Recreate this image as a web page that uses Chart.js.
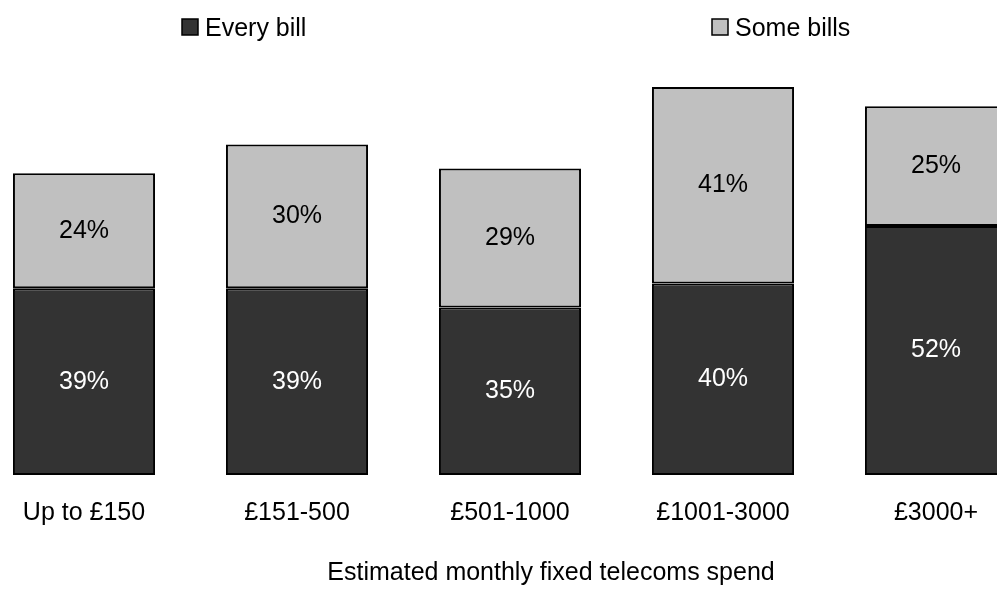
<!DOCTYPE html>
<html>
<head>
<meta charset="utf-8">
<script src="https://cdn.jsdelivr.net/npm/chart.js@4.4.1/dist/chart.umd.min.js"></script>
<style>
  html, body { margin: 0; padding: 0; background: #fff; overflow: hidden; }
  #wrap { position: relative; width: 997px; height: 594px; overflow: hidden; }
  #spendChart { position: absolute; left: -30px; top: 0; }
</style>
</head>
<body>
<div id="wrap">
  <canvas id="spendChart" width="1120" height="594"></canvas>
</div>
<script>
const categories = ['Up to £150', '£151-500', '£501-1000', '£1001-3000', '£3000+'];
const everyBill = [39, 39, 35, 40, 52];
const someBills = [24, 30, 29, 41, 25];
const seriesNames = ['Every bill', 'Some bills'];
const axisTitle = 'Estimated monthly fixed telecoms spend';

const FONT = '"Liberation Sans", Arial, sans-serif';

// value labels in the middle of each stacked segment
const segmentLabels = {
  id: 'segmentLabels',
  afterDatasetsDraw(chart) {
    const ctx = chart.ctx;
    ctx.save();
    ctx.font = '25px ' + FONT;
    ctx.textAlign = 'center';
    ctx.textBaseline = 'middle';
    chart.data.datasets.forEach((ds, di) => {
      const meta = chart.getDatasetMeta(di);
      meta.data.forEach((bar, i) => {
        const mid = (bar.y + bar.base) / 2;
        ctx.fillStyle = ds.labelColor;
        ctx.fillText(ds.data[i] + '%', bar.x, mid);
      });
    });
    ctx.restore();
  }
};

// legend spread across the top and the axis title underneath
const annotations = {
  id: 'annotations',
  afterDraw(chart) {
    const ctx = chart.ctx;
    const off = 30; // canvas is shifted left by this much
    ctx.save();
    ctx.font = '25px ' + FONT;
    ctx.textBaseline = 'alphabetic';
    ctx.textAlign = 'left';
    const legendX = [182, 712];
    chart.data.datasets.forEach((ds, di) => {
      const x = legendX[di] + off;
      ctx.fillStyle = ds.backgroundColor;
      ctx.fillRect(x, 19, 16, 16);
      ctx.lineWidth = 1.5;
      ctx.strokeStyle = '#000';
      ctx.strokeRect(x, 19, 16, 16);
      ctx.fillStyle = '#000';
      ctx.fillText(ds.label, x + 23, 36);
    });
    ctx.textAlign = 'center';
    ctx.fillText(axisTitle, 551 + off, 580);
    ctx.restore();
  }
};

new Chart(document.getElementById('spendChart'), {
  type: 'bar',
  data: {
    labels: categories,
    datasets: [
      {
        label: seriesNames[0],
        data: everyBill,
        backgroundColor: '#333333',
        borderColor: '#000000',
        borderWidth: 2,
        borderSkipped: false,
        labelColor: '#ffffff',
      },
      {
        label: seriesNames[1],
        data: someBills,
        backgroundColor: '#c0c0c0',
        borderColor: '#000000',
        borderWidth: 2,
        borderSkipped: false,
        labelColor: '#000000',
      },
    ],
  },
  options: {
    responsive: false,
    animation: false,
    layout: { padding: { left: 7.5, right: 47.5, top: 44, bottom: 43 } },
    datasets: { bar: { categoryPercentage: 1, barPercentage: 0.667 } },
    plugins: {
      legend: { display: false },
      tooltip: { enabled: false },
    },
    scales: {
      x: {
        stacked: true,
        grid: { display: false, drawTicks: false },
        border: { display: false },
        ticks: { color: '#000', font: { family: FONT, size: 25 }, padding: 23 },
      },
      y: {
        stacked: true,
        display: false,
        min: 0,
        max: 90,
      },
    },
  },
  plugins: [segmentLabels, annotations],
});
</script>
</body>
</html>
